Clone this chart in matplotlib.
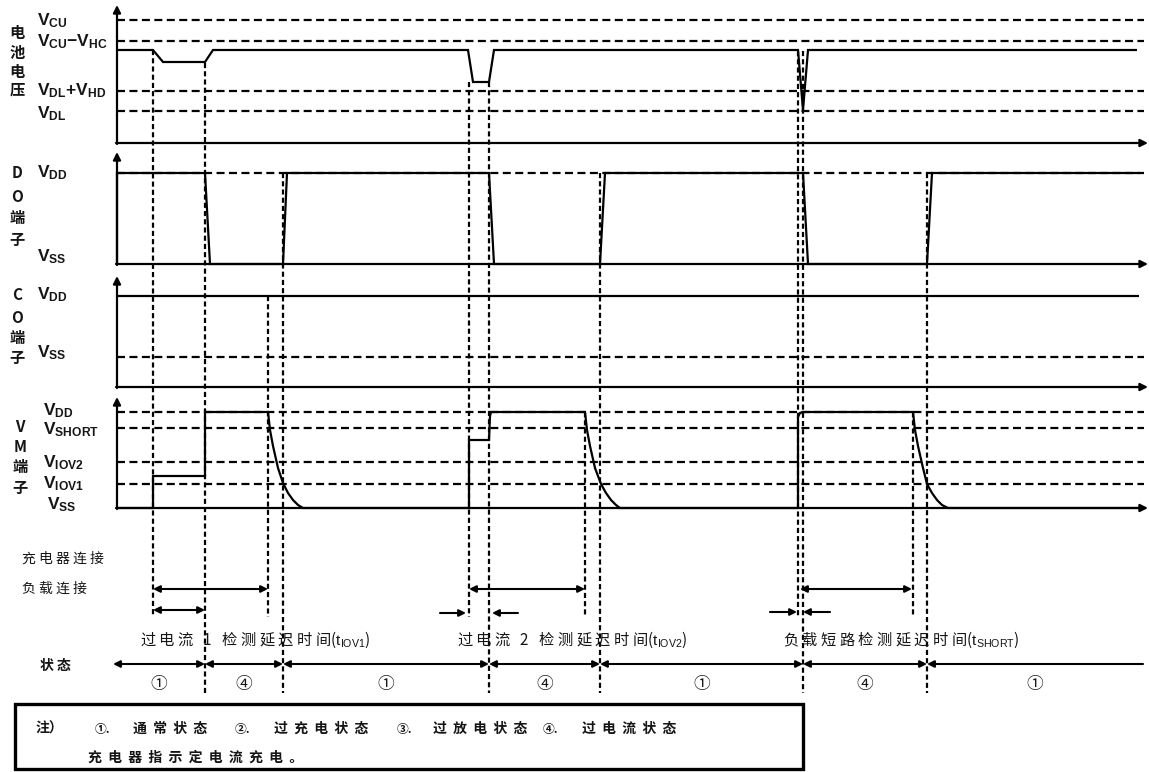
import matplotlib
matplotlib.use("Agg")
import matplotlib.pyplot as plt
from matplotlib.patches import Rectangle

plt.rcParams['mathtext.fontset'] = 'custom'
plt.rcParams['mathtext.rm'] = 'Liberation Sans'
plt.rcParams['mathtext.bf'] = 'Liberation Sans:bold'
plt.rcParams['mathtext.it'] = 'Liberation Sans:italic'
plt.rcParams['mathtext.sf'] = 'Liberation Sans'
plt.rcParams['font.family'] = ['Noto Sans CJK SC', 'DejaVu Sans']

# ---------------- data (time axis units, level units above each panel's baseline) -------------
BAT_T = [117, 153, 163, 205, 213, 468, 473, 489, 494, 798, 803, 808, 1137]
BAT_V = [93, 93, 81, 81, 93, 93, 61, 61, 93, 93, 33, 93, 93]

DO_T = [117, 117, 205, 210, 283, 287, 489, 494, 600, 605, 803, 808, 927, 932, 1140]
DO_V = [0, 91, 91, 0, 0, 91, 91, 0, 0, 91, 91, 0, 0, 91, 91]

CO_T = [117, 1139]
CO_V = [91, 91]

VM_T = [117, 153, 153, 205, 205, 268,
        270, 273, 278, 283, 288, 293, 298, 303,
        469, 469, 489, 490, 491, 585,
        587, 590, 595, 601, 606, 611, 616, 620,
        798, 798, 800, 803, 913,
        915, 918, 923, 927, 932, 937, 942, 948,
        1140]
VM_V = [0, 0, 32, 32, 96, 96,
        78, 62, 40, 25, 15, 8, 3, 0,
        0, 68, 68, 92, 96, 96,
        78, 62, 40, 24, 15, 8, 3, 0,
        0, 91, 95, 96, 96,
        78, 62, 40, 24, 15, 8, 3, 0,
        0]

BAT_LEVELS = [123, 102, 52, 32]
BAT_LABELS = [r"$\mathbf{V}_{\mathbf{CU}}$",
              r"$\mathbf{V}_{\mathbf{CU}}\mathbf{-V}_{\mathbf{HC}}$",
              r"$\mathbf{V}_{\mathbf{DL}}\mathbf{+V}_{\mathbf{HD}}$",
              r"$\mathbf{V}_{\mathbf{DL}}$"]
DO_LEVELS = [91]
DO_LABELS = [r"$\mathbf{V}_{\mathbf{DD}}$", r"$\mathbf{V}_{\mathbf{SS}}$"]
CO_LEVELS = [30]
CO_LABELS = [r"$\mathbf{V}_{\mathbf{DD}}$", r"$\mathbf{V}_{\mathbf{SS}}$"]
VM_LEVELS = [96, 80, 46, 24]
VM_LABELS = [r"$\mathbf{V}_{\mathbf{DD}}$", r"$\mathbf{V}_{\mathbf{SHORT}}$",
             r"$\mathbf{V}_{\mathbf{IOV2}}$", r"$\mathbf{V}_{\mathbf{IOV1}}$",
             r"$\mathbf{V}_{\mathbf{SS}}$"]

PANEL_TITLES = ["电池电压", "DO端子", "CO端子", "VM端子"]

# event markers (dashed verticals)
EVENT_T = [153, 205, 268, 283, 469, 489, 585, 600, 798, 803, 913, 927]

# measurement arrows
LOAD_SPANS = [(153, 268), (469, 585), (800, 912)]
IOV1_SPAN = (153, 205)
INWARD_PAIRS = [(440, 466, 518, 492), (770, 797, 830, 803)]
DELAY_LABELS = ["过电流 1 检测延迟时间", "过电流 2 检测延迟时间", "负载短路检测延迟时间"]
DELAY_SUBS = ["IOV1", "IOV2", "SHORT"]

STATE_BOUNDS = [113, 205, 283, 489, 600, 803, 927, 1143]
STATE_LABELS = ["①", "④", "①", "④", "①", "④", "①"]

ROW_LABELS = ["充电器连接", "负载连接", "状态"]
NOTE_HEAD = "注）"
NOTE_MARKS = ["①.", "②.", "③.", "④."]
NOTE_ITEMS = ["通常状态", "过充电状态", "过放电状态", "过电流状态"]
NOTE_LINE2 = "充电器指示定电流充电。"

# ---------------- layout ----------------
X0 = 117
BASES = [143, 264, 387, 508]
TOPS = [5, 152, 276, 397]
DASH_END = 1144
TXT = '#151515'
LW = 1.6


def spaced(s, n=1):
    return (' ' * n).join(s)


fig = plt.figure(figsize=(11.49, 7.72), dpi=100)
ax = fig.add_axes([0, 0, 1, 1])
ax.set_xlim(0, 1149)
ax.set_ylim(772, 0)
ax.axis('off')

hdash = dict(color='k', lw=1.6, ls=(0, (3.6, 2.0)))
vdash = dict(color='k', lw=1.6, ls=(0, (2.3, 1.4)))

# axes with arrows
for base, top in zip(BASES, TOPS):
    ax.annotate('', xy=(X0, top), xytext=(X0, base + 1),
                arrowprops=dict(arrowstyle='-|>', color='k', lw=LW,
                                mutation_scale=11, shrinkA=0, shrinkB=0))
    ax.annotate('', xy=(1148, base), xytext=(X0 - 1, base),
                arrowprops=dict(arrowstyle='-|>', color='k', lw=LW,
                                mutation_scale=11, shrinkA=0, shrinkB=0))

# horizontal dashed level lines
for base, levels in zip(BASES, [BAT_LEVELS, DO_LEVELS, CO_LEVELS, VM_LEVELS]):
    for lv in levels:
        ax.plot([X0, DASH_END], [base - lv, base - lv], **hdash)

# vertical dashed event lines
ev_top = {153: BASES[0] - 93, 205: BASES[0] - 80, 268: BASES[2] - 91, 283: BASES[1] - 91,
          469: BASES[0] - 61, 489: BASES[0] - 61, 585: BASES[3] - 96, 600: BASES[1] - 91,
          798: BASES[0] - 92, 803: BASES[0] - 92, 913: BASES[3] - 96, 927: BASES[1] - 91}
long_ev = {205, 283, 489, 600, 803, 927}
for t in EVENT_T:
    bottom = 693 if t in long_ev else 617
    ax.plot([t, t], [ev_top[t], bottom], **vdash)

# signals
for T, V, base in [(BAT_T, BAT_V, BASES[0]), (DO_T, DO_V, BASES[1]),
                   (CO_T, CO_V, BASES[2]), (VM_T, VM_V, BASES[3])]:
    ax.plot(T, [base - v for v in V], color='k', lw=LW,
            solid_joinstyle='miter', solid_capstyle='butt')

# level labels
vfs = 12.5
bat_label_y = [21, 42, 91, 114]
for s, y in zip(BAT_LABELS, bat_label_y):
    ax.text(37, y, s, fontsize=vfs, ha='left', va='center', color=TXT)
ax.text(37, 173, DO_LABELS[0], fontsize=vfs, ha='left', va='center', color=TXT)
ax.text(37, 257, DO_LABELS[1], fontsize=vfs, ha='left', va='center', color=TXT)
ax.text(37, 295, CO_LABELS[0], fontsize=vfs, ha='left', va='center', color=TXT)
ax.text(37, 353, CO_LABELS[1], fontsize=vfs, ha='left', va='center', color=TXT)
vm_label_y = [411, 430, 463, 484, 505]
vm_label_x = [43, 43, 43, 43, 47]
for s, x, y in zip(VM_LABELS, vm_label_x, vm_label_y):
    ax.text(x, y, s, fontsize=vfs, ha='left', va='center', color=TXT)

# vertical panel titles
title_pos = [(17, [33, 53, 72, 90]), (17, [173, 197, 218, 240]),
             (17, [295, 318, 338, 358]), (20, [427, 447, 467, 488])]
for title, (x, ys) in zip(PANEL_TITLES, title_pos):
    for ch, y in zip(title, ys):
        ax.text(x, y, ch, fontsize=11, fontweight='bold', ha='center', va='center', color=TXT)

# row labels
ax.text(22, 559, spaced(ROW_LABELS[0]), fontsize=10, ha='left', va='center', color=TXT)
ax.text(22, 589, spaced(ROW_LABELS[1]), fontsize=10, ha='left', va='center', color=TXT)
ax.text(40, 666, spaced(ROW_LABELS[2]), fontsize=10, fontweight='bold', ha='left', va='center', color=TXT)

arrow_kw = dict(color='k', lw=1.5, mutation_scale=10, shrinkA=0, shrinkB=0)
# load-connection spans
for a, b in LOAD_SPANS:
    ax.annotate('', xy=(b, 589), xytext=(a, 589), arrowprops=dict(arrowstyle='<|-|>', **arrow_kw))
ax.annotate('', xy=(IOV1_SPAN[1], 610), xytext=(IOV1_SPAN[0], 610),
            arrowprops=dict(arrowstyle='<|-|>', **arrow_kw))
for (a1, b1, a2, b2), y in zip(INWARD_PAIRS, [613, 612]):
    ax.annotate('', xy=(b1, y), xytext=(a1, y), arrowprops=dict(arrowstyle='-|>', **arrow_kw))
    ax.annotate('', xy=(b2, y), xytext=(a2, y), arrowprops=dict(arrowstyle='-|>', **arrow_kw))

# delay labels
for s, sub, x in zip(DELAY_LABELS, DELAY_SUBS, [140, 457, 783]):
    ax.text(x, 640, spaced(s) + r"($\mathrm{t}_{\mathrm{%s}}$)" % sub,
            fontsize=11, ha='left', va='center', color=TXT)

# state row
for i in range(len(STATE_BOUNDS) - 1):
    a, b = STATE_BOUNDS[i], STATE_BOUNDS[i + 1]
    style = '<|-' if i == len(STATE_BOUNDS) - 2 else '<|-|>'
    ax.annotate('', xy=(b, 664), xytext=(a, 664), arrowprops=dict(arrowstyle=style, **arrow_kw))
    ax.text((a + b) / 2, 685, STATE_LABELS[i], fontsize=12, ha='center', va='center', color=TXT)

# note box
ax.add_patch(Rectangle((15, 704), 788, 65, fill=False, lw=2.4, ec='k'))
ax.text(35, 729, NOTE_HEAD, fontsize=10, fontweight='bold', ha='left', va='center', color=TXT)
for mark, item, xm, xi in zip(NOTE_MARKS, NOTE_ITEMS, [95, 235, 397, 543], [133, 274, 433, 582]):
    ax.text(xm, 729, mark, fontsize=8.5, fontweight='bold', ha='left', va='center', color=TXT)
    ax.text(xi, 729, spaced(item, 2), fontsize=10, fontweight='bold', ha='left', va='center', color=TXT)
ax.text(88, 758, spaced(NOTE_LINE2, 2), fontsize=10, fontweight='bold', ha='left', va='center', color=TXT)

fig.savefig('out.png', dpi=100)
